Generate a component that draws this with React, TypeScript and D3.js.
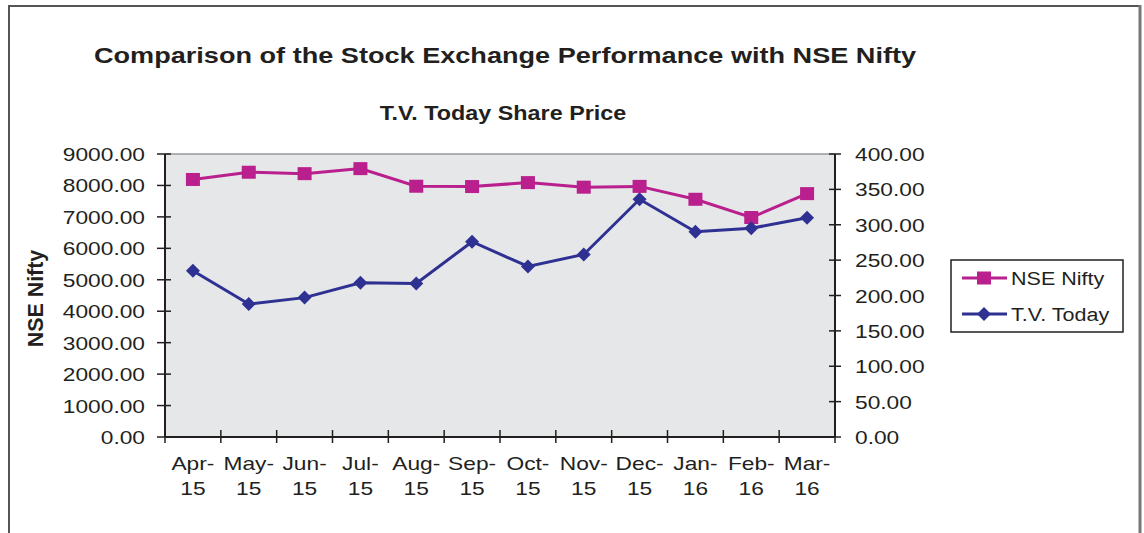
import React from "react";
import * as d3 from "d3";

const months = ["Apr-|15","May-|15","Jun-|15","Jul-|15","Aug-|15","Sep-|15","Oct-|15","Nov-|15","Dec-|15","Jan-|16","Feb-|16","Mar-|16"];
const nifty = [8190, 8420, 8375, 8535, 7975, 7965, 8090, 7945, 7970, 7560, 6980, 7740];
const tvToday = [235, 188, 197, 218, 217, 276, 241, 258, 336, 290, 295, 310];
const leftTicks = [0,1000,2000,3000,4000,5000,6000,7000,8000,9000];
const rightTicks = [0,50,100,150,200,250,300,350,400];

const MAG = "#B91F8D";
const BLUE = "#2E3192";
const AX = "#231F20";
const FONT = "Liberation Sans, Arial, sans-serif";
const SX = 1.21;

function T(props: { x: number; y: number; size: number; anchor?: string; bold?: boolean; children: React.ReactNode }) {
  return (
    <text
      transform={`translate(${props.x},${props.y}) scale(${SX},1)`}
      textAnchor={props.anchor || "start"}
      fontSize={props.size}
      fontWeight={props.bold ? "bold" : "normal"}
      fill={AX}
    >
      {props.children}
    </text>
  );
}

export default function App() {
  const L = 165, R = 835, Tp = 154, B = 437;
  const x = d3.scaleBand<number>().domain(d3.range(12)).range([L, R]);
  const yL = d3.scaleLinear().domain([0, 9000]).range([B, Tp]);
  const yR = d3.scaleLinear().domain([0, 400]).range([B, Tp]);
  const cx = (i: number) => (x(i) as number) + x.bandwidth() / 2;
  const lineN = d3.line<number>().x((_, i) => cx(i)).y(d => yL(d));
  const lineT = d3.line<number>().x((_, i) => cx(i)).y(d => yR(d));
  const sqW = 14, sqH = 13;
  const dmx = 7, dmy = 7;
  const diamond = (px: number, py: number) => `M${px},${py - dmy}L${px + dmx},${py}L${px},${py + dmy}L${px - dmx},${py}Z`;

  return (
    <svg width={1144} height={533} style={{ position: "absolute", left: 0, top: 0, display: "block" }} fontFamily={FONT}>
      <rect x={0} y={0} width={1144} height={533} fill="#fff" />
      <path d={`M9,540 L9,6 L1140,6`} fill="none" stroke="#555" strokeWidth={2} />
      <line x1={1140} y1={5} x2={1140} y2={540} stroke="#777" strokeWidth={3} />
      <T x={505} y={63} size={22.4} anchor="middle" bold>Comparison of the Stock Exchange Performance with NSE Nifty</T>
      <T x={503} y={120} size={19.3} anchor="middle" bold>T.V. Today Share Price</T>

      <rect x={L} y={Tp} width={R - L} height={B - Tp} fill="#E6E7E9" />
      <line x1={L} y1={Tp} x2={R} y2={Tp} stroke="#999" strokeWidth={1.5} />

      {/* left axis */}
      <line x1={L} y1={Tp} x2={L} y2={B} stroke={AX} strokeWidth={2} />
      {leftTicks.map(t => (
        <g key={"l" + t}>
          <line x1={157} x2={171} y1={yL(t)} y2={yL(t)} stroke={AX} strokeWidth={1.5} />
          <T x={145} y={yL(t) + 7} size={18.8} anchor="end">{t.toFixed(2)}</T>
        </g>
      ))}
      {/* right axis */}
      <line x1={R} y1={Tp} x2={R} y2={B} stroke={AX} strokeWidth={2} />
      {rightTicks.map(t => (
        <g key={"r" + t}>
          <line x1={829} x2={841} y1={yR(t)} y2={yR(t)} stroke={AX} strokeWidth={1.5} />
          <T x={855} y={yR(t) + 7} size={18.8}>{t.toFixed(2)}</T>
        </g>
      ))}
      {/* bottom axis */}
      <line x1={L} y1={B} x2={R} y2={B} stroke={AX} strokeWidth={2} />
      {d3.range(13).map(i => {
        const px = i < 12 ? (x(i) as number) : R;
        return <line key={"bt" + i} x1={px} x2={px} y1={430} y2={443} stroke={AX} strokeWidth={1.5} />;
      })}
      {months.map((m, i) => {
        const [a, b] = m.split("|");
        return (
          <g key={m}>
            <T x={cx(i)} y={470} size={18.8} anchor="middle">{a}</T>
            <T x={cx(i)} y={495} size={18.8} anchor="middle">{b}</T>
          </g>
        );
      })}
      <text transform={`translate(43,298.5) rotate(-90)`} textAnchor="middle" fontSize={21.4} fontWeight="bold" fill={AX}>NSE Nifty</text>

      {/* series */}
      <path d={lineN(nifty) as string} fill="none" stroke={MAG} strokeWidth={3} />
      {nifty.map((v, i) => (
        <rect key={"n" + i} x={cx(i) - sqW / 2} y={yL(v) - sqH / 2} width={sqW} height={sqH} fill={MAG} />
      ))}
      <path d={lineT(tvToday) as string} fill="none" stroke={BLUE} strokeWidth={3} />
      {tvToday.map((v, i) => (
        <path key={"t" + i} d={diamond(cx(i), yR(v))} fill={BLUE} />
      ))}

      {/* legend */}
      <rect x={951} y={260} width={172} height={72} fill="#fff" stroke={AX} strokeWidth={1.5} />
      <line x1={962} x2={1007} y1={278} y2={278} stroke={MAG} strokeWidth={3} />
      <rect x={984 - sqW / 2} y={278 - sqH / 2} width={sqW} height={sqH} fill={MAG} />
      <T x={1011} y={284.5} size={17.8}>NSE Nifty</T>
      <line x1={962} x2={1007} y1={314} y2={314} stroke={BLUE} strokeWidth={3} />
      <path d={diamond(984, 314)} fill={BLUE} />
      <T x={1011} y={320.5} size={17.8}>T.V. Today</T>
    </svg>
  );
}
